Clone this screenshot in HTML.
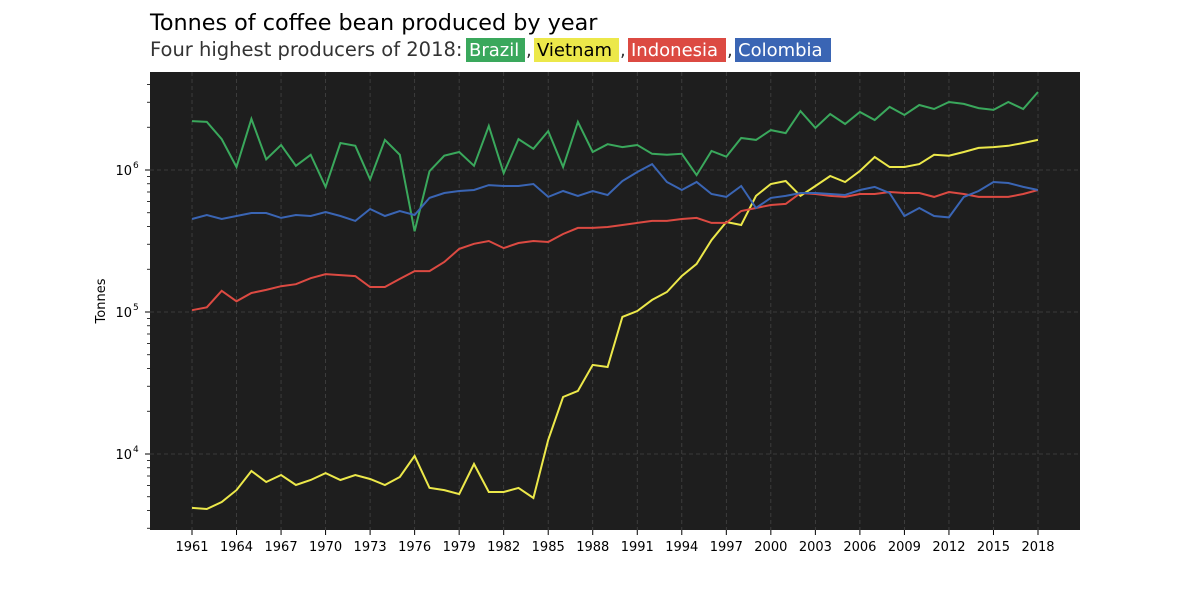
<!DOCTYPE html>
<html><head><meta charset="utf-8"><style>
body{margin:0;background:#fff;width:1200px;height:596px;overflow:hidden;font-family:"DejaVu Sans","Liberation Sans",sans-serif}
</style></head><body>
<svg id="chart" width="1200" height="596" font-family="DejaVu Sans, Liberation Sans, sans-serif">
<text x="150" y="30" font-size="22.3" fill="#000">Tonnes of coffee bean produced by year</text>
<g font-size="18">
<text x="150" y="56" fill="#333" font-size="19.5">Four highest producers of 2018:</text>
<rect x="466" y="38" width="59" height="24" fill="#3aa85c"/><text x="469" y="56" fill="#fff">Brazil</text>
<text x="526" y="56" fill="#333">,</text>
<rect x="534" y="38" width="85" height="24" fill="#ece84a"/><text x="537" y="56" fill="#000">Vietnam</text>
<text x="620" y="56" fill="#333">,</text>
<rect x="628" y="38" width="98" height="24" fill="#dc4a42"/><text x="631" y="56" fill="#fff">Indonesia</text>
<text x="727" y="56" fill="#333">,</text>
<rect x="735" y="38" width="96" height="24" fill="#3a65b4"/><text x="738" y="56" fill="#fff">Colombia</text>
</g>
<rect x="150" y="72" width="930" height="458" fill="#1e1e1e"/>
<g id="grid"></g><g id="axes"></g><g id="series"></g>
<text transform="translate(105,301) rotate(-90)" text-anchor="middle" font-size="13">Tonnes</text>
</svg>
<script>
const years=[];for(let y=1961;y<=2018;y++)years.push(y);
const brazil=[2.21e6,2.18e6,1.65e6,1.05e6,2.29e6,1.19e6,1.50e6,1.07e6,1.28e6,0.76e6,1.55e6,1.48e6,0.86e6,1.63e6,1.28e6,0.37e6,0.98e6,1.26e6,1.34e6,1.07e6,2.04e6,0.95e6,1.65e6,1.41e6,1.88e6,1.05e6,2.18e6,1.34e6,1.52e6,1.45e6,1.50e6,1.30e6,1.28e6,1.30e6,0.92e6,1.36e6,1.24e6,1.68e6,1.63e6,1.91e6,1.82e6,2.60e6,1.98e6,2.48e6,2.11e6,2.56e6,2.25e6,2.78e6,2.44e6,2.87e6,2.69e6,3.01e6,2.92e6,2.73e6,2.65e6,3.01e6,2.69e6,3.54e6];
const vietnam=[4170,4100,4590,5570,7590,6350,7110,6050,6560,7340,6560,7110,6670,6050,6890,9690,5770,5570,5220,8510,5400,5400,5770,4900,12560,25200,27800,42400,41000,92300,101700,121600,138400,179400,218000,321000,430000,410000,657000,797000,837000,657000,771000,907000,823000,984000,1235000,1050000,1050000,1100000,1280000,1260000,1340000,1430000,1450000,1480000,1550000,1630000];
const indonesia=[103000,108000,141000,119000,136000,143000,152000,157000,173000,185000,182000,179000,150000,150000,171000,194000,194000,225000,278000,302000,316000,282000,306000,316000,311000,354000,391000,391000,397000,410000,424000,438000,438000,452000,460000,424000,424000,514000,540000,567000,577000,689000,678000,657000,646000,678000,678000,700000,689000,689000,646000,700000,678000,646000,646000,646000,678000,723000];
const colombia=[452000,482000,452000,474000,498000,498000,460000,482000,474000,506000,474000,438000,531000,474000,514000,482000,636000,689000,711000,723000,783000,771000,771000,797000,646000,711000,657000,711000,667000,837000,968000,1100000,823000,723000,823000,678000,646000,771000,540000,636000,657000,689000,689000,678000,667000,723000,760000,689000,474000,540000,474000,464000,646000,711000,823000,810000,760000,723000];
const xTicks=[1961,1964,1967,1970,1973,1976,1979,1982,1985,1988,1991,1994,1997,2000,2003,2006,2009,2012,2015,2018];
const yTicks=[4,5,6];
const X=y=>192+(y-1961)*846/57;
const Y=v=>170-(Math.log10(v)-6)*142;
const NS="http://www.w3.org/2000/svg";
function mk(tag,attrs,parent){const e=document.createElementNS(NS,tag);for(const k in attrs)e.setAttribute(k,attrs[k]);parent.appendChild(e);return e;}
const grid=document.getElementById('grid'),axes=document.getElementById('axes'),ser=document.getElementById('series');
xTicks.forEach(t=>{const x=X(t);
 const g=mk('line',{x1:x,x2:x,y1:72,y2:530,stroke:'#444','stroke-dasharray':'4,3','stroke-width':0.8},grid);
 
 
 mk('line',{x1:x,x2:x,y1:530,y2:535,stroke:'#000'},axes);
 const tx=mk('text',{x:x,y:551,'text-anchor':'middle','font-size':13},axes);tx.textContent=t;
 
 
});
yTicks.forEach(p=>{const y=Y(Math.pow(10,p));
 const g=mk('line',{x1:150,x2:1080,y1:y,y2:y,stroke:'#444','stroke-dasharray':'4,3','stroke-width':0.8},grid);
 
 
 mk('line',{x1:145,x2:150,y1:y,y2:y,stroke:'#000'},axes);
 const tx=mk('text',{x:132,y:y+5,'text-anchor':'end','font-size':13},axes);tx.textContent='10';
 
 
 const s=mk('text',{x:133,y:y-2,'font-size':9},axes);s.textContent=p;
});
for(let p=3;p<=6;p++)for(let m=2;m<=9;m++){const v=m*Math.pow(10,p);const y=Y(v);if(y<72||y>530)continue;mk('line',{x1:147,x2:150,y1:y,y2:y,stroke:'#000','stroke-width':0.8},axes);}
const series=[['brazil',brazil,'#3aa85c'],['vietnam',vietnam,'#ece84a'],['indonesia',indonesia,'#dc4a42'],['colombia',colombia,'#3a65b4']];
series.forEach(([n,d,c])=>{const pts=d.map((v,i)=>X(years[i]).toFixed(1)+','+Y(v).toFixed(1)).join(' ');
 const l=mk('polyline',{points:pts,fill:'none',stroke:c,'stroke-width':2},ser);
 
 
});
</script>
</body></html>
